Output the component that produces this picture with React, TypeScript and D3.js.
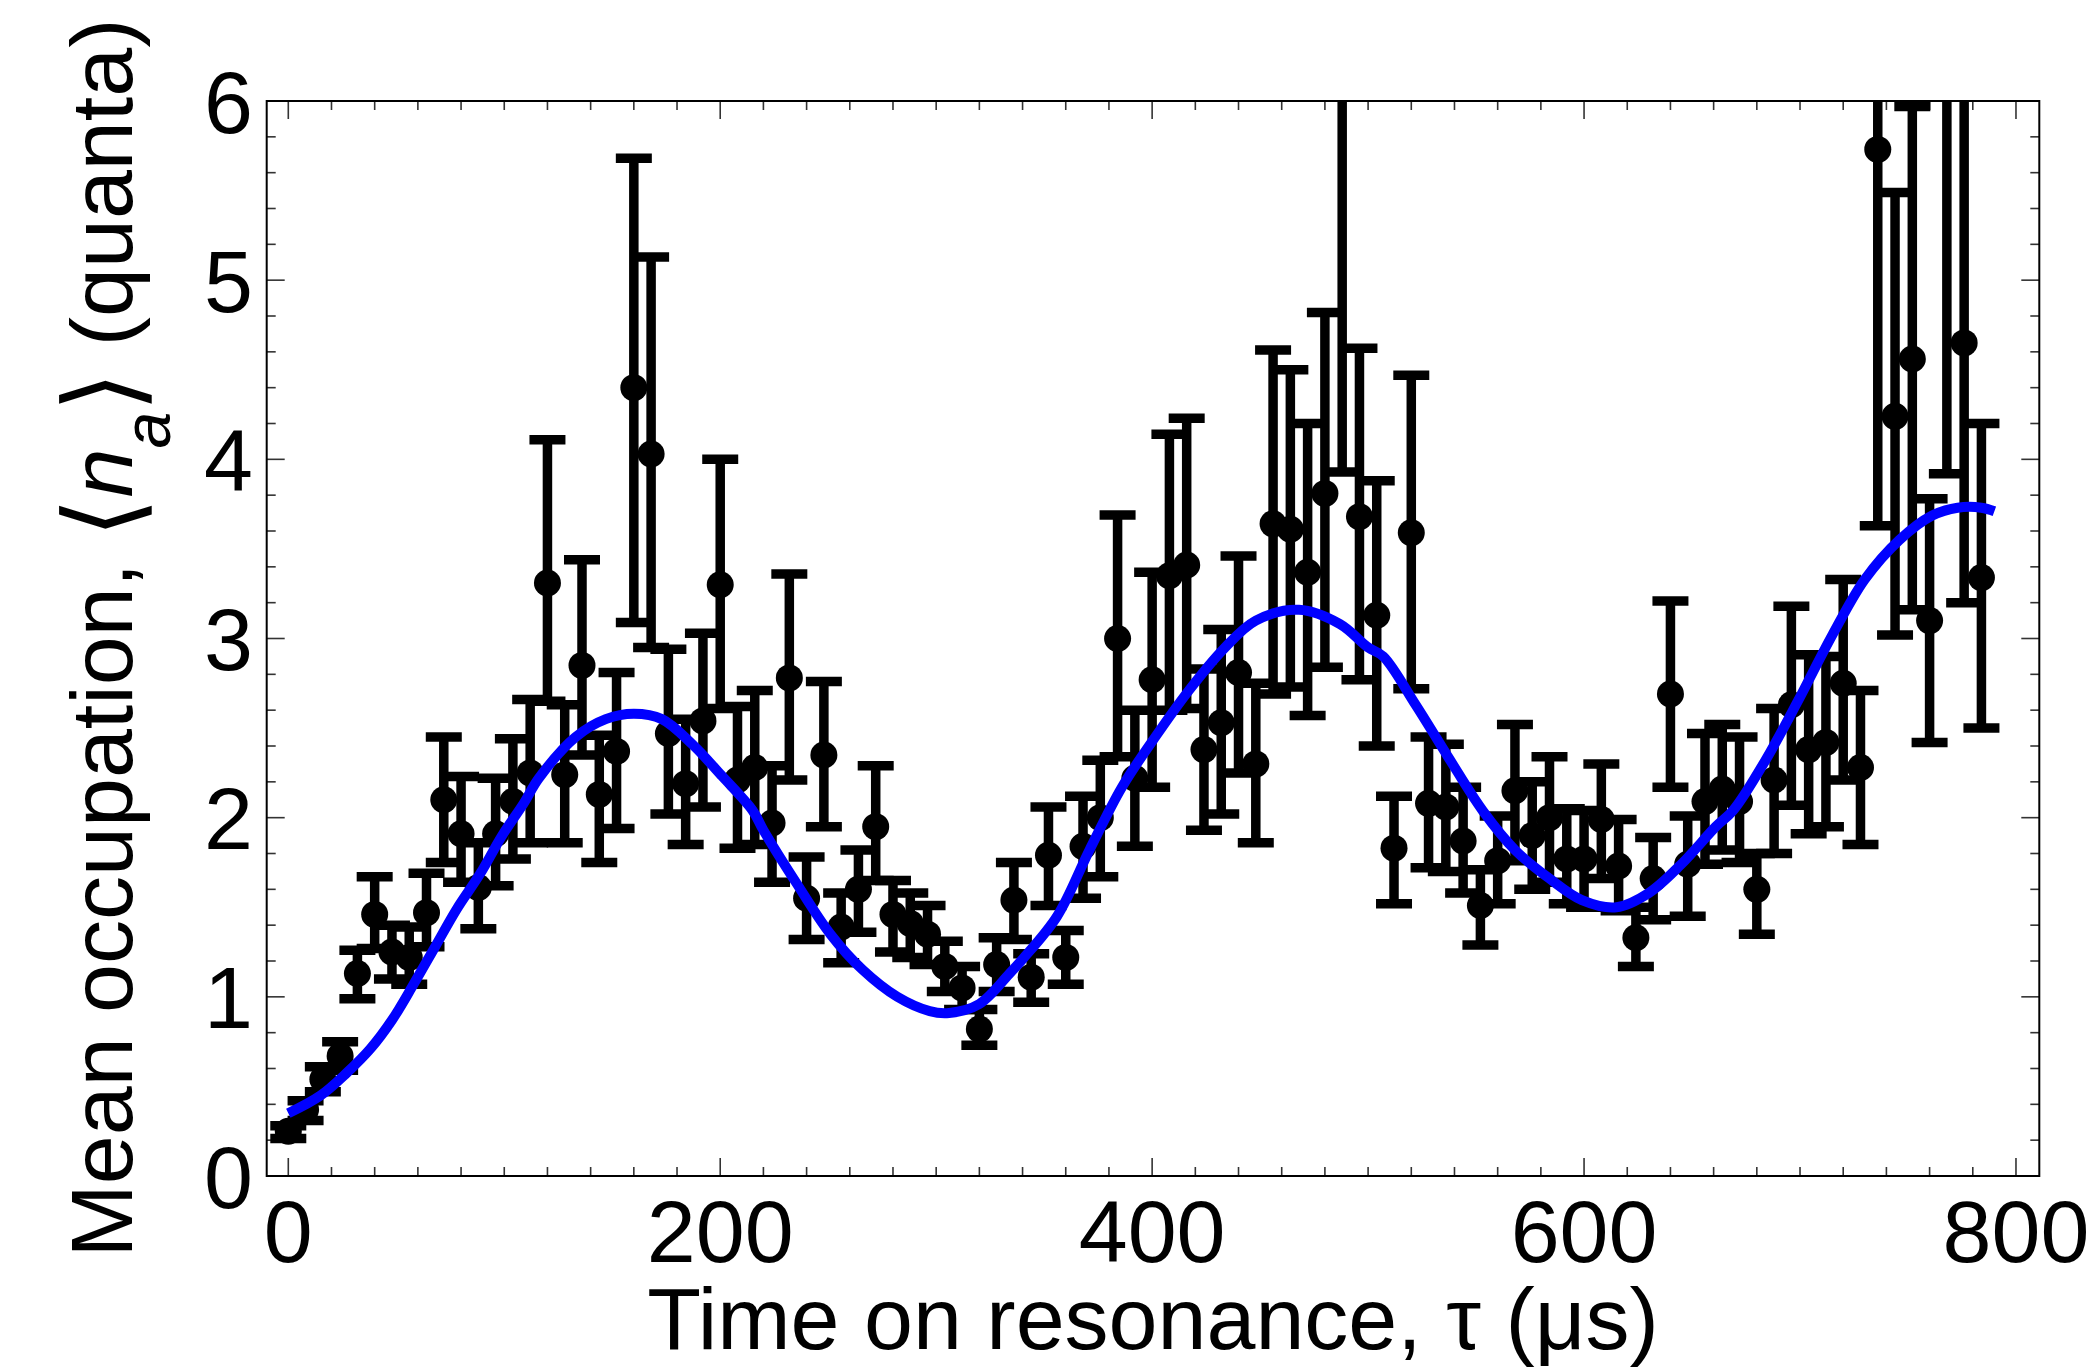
import React from 'react';
import * as d3 from 'd3';

// Time on resonance (µs)
const TIMES = [
  0, 8, 16, 24, 32, 40, 48, 56, 64, 72, 80, 88, 96, 104, 112, 120, 128, 136, 144, 152,
  160, 168, 176, 184, 192, 200, 208, 216, 224, 232, 240, 248, 256, 264, 272, 280, 288, 296, 304, 312,
  320, 328, 336, 344, 352, 360, 368, 376, 384, 392, 400, 408, 416, 424, 432, 440, 448, 456, 464, 472,
  480, 488, 496, 504, 512, 520, 528, 536, 544, 552, 560, 568, 576, 584, 592, 600, 608, 616, 624, 632,
  640, 648, 656, 664, 672, 680, 688, 696, 704, 712, 720, 728, 736, 744, 752, 760, 768, 776, 784,
];
// Mean occupation <n_a>
const MEAN = [
  0.25, 0.37, 0.54, 0.67, 1.13, 1.46, 1.25, 1.22, 1.47, 2.10, 1.91, 1.61, 1.91, 2.09, 2.25, 3.31, 2.24, 2.85, 2.13, 2.37,
  4.40, 4.03, 2.47, 2.19, 2.54, 3.30, 2.21, 2.28, 1.97, 2.78, 1.55, 2.35, 1.39, 1.60, 1.95, 1.46, 1.41, 1.35, 1.17, 1.05,
  0.82, 1.18, 1.54, 1.11, 1.79, 1.22, 1.84, 2.00, 3.00, 2.22, 2.77, 3.35, 3.41, 2.38, 2.53, 2.81, 2.30, 3.64, 3.61, 3.37,
  3.81, 6.40, 3.68, 3.13, 1.83, 3.59, 2.08, 2.06, 1.87, 1.51, 1.76, 2.15, 1.90, 2.00, 1.77, 1.77, 1.99, 1.73, 1.33, 1.66,
  2.69, 1.74, 2.09, 2.16, 2.09, 1.60, 2.21, 2.63, 2.38, 2.42, 2.75, 2.28, 5.73, 4.24, 4.56, 3.10, 6.30, 4.65, 3.34,
];
// Lower end of the error bar
const LOWER = [
  0.21, 0.31, 0.47, 0.59, 0.99, 1.27, 1.10, 1.07, 1.28, 1.75, 1.64, 1.38, 1.62, 1.77, 1.86, 2.65, 1.86, 2.35, 1.75, 1.94,
  3.09, 2.95, 2.02, 1.85, 2.06, 2.61, 1.83, 1.85, 1.64, 2.21, 1.32, 1.95, 1.19, 1.36, 1.65, 1.25, 1.22, 1.18, 1.03, 0.93,
  0.73, 1.03, 1.32, 0.97, 1.51, 1.07, 1.55, 1.67, 2.34, 1.84, 2.17, 2.60, 2.61, 1.93, 2.02, 2.25, 1.86, 2.69, 2.73, 2.57,
  2.84, 3.93, 2.77, 2.40, 1.52, 2.72, 1.72, 1.70, 1.58, 1.29, 1.52, 1.76, 1.60, 1.64, 1.52, 1.50, 1.66, 1.48, 1.17, 1.43,
  2.17, 1.45, 1.74, 1.82, 1.75, 1.35, 1.80, 2.07, 1.91, 1.95, 2.21, 1.85, 3.63, 3.02, 3.16, 2.42, 3.92, 3.20, 2.50,
];
// Upper end of the error bar
const UPPER = [
  0.28, 0.42, 0.61, 0.75, 1.26, 1.67, 1.40, 1.39, 1.69, 2.45, 2.23, 1.86, 2.22, 2.44, 2.66, 4.11, 2.63, 3.44, 2.46, 2.81,
  5.68, 5.13, 2.94, 2.55, 3.03, 4.00, 2.62, 2.71, 2.29, 3.36, 1.78, 2.76, 1.58, 1.82, 2.29, 1.65, 1.58, 1.51, 1.31, 1.17,
  0.93, 1.33, 1.75, 1.24, 2.06, 1.37, 2.12, 2.32, 3.69, 2.60, 3.37, 4.14, 4.23, 2.83, 3.05, 3.46, 2.75, 4.61, 4.50, 4.20,
  4.82, 8.90, 4.62, 3.88, 2.12, 4.47, 2.45, 2.41, 2.17, 1.71, 2.01, 2.52, 2.20, 2.34, 2.05, 2.04, 2.30, 1.99, 1.50, 1.89,
  3.21, 2.01, 2.47, 2.52, 2.45, 1.80, 2.61, 3.18, 2.91, 2.90, 3.33, 2.71, 7.80, 5.49, 5.97, 3.78, 8.70, 6.10, 4.20,
];

// Fitted curve
const FIT_TIME = [
  0, 15, 27, 38, 48, 58, 68, 78, 89, 99, 109, 116, 133, 147, 160, 173, 187, 201, 215, 220,
  235, 251, 266, 282, 297, 306, 320, 334, 340, 356, 371, 386, 402, 417, 433, 448, 468, 487, 500, 507,
  522, 537, 553, 568, 584, 599, 615, 630, 645, 661, 669, 684, 699, 715, 730, 746, 761, 773, 784, 790,
];
const FIT_MEAN = [
  0.35, 0.45, 0.575, 0.71, 0.87, 1.07, 1.28, 1.49, 1.69, 1.90, 2.08, 2.22, 2.45, 2.55, 2.58, 2.55, 2.41, 2.23, 2.04, 1.93,
  1.64, 1.35, 1.15, 1.00, 0.92, 0.91, 0.96, 1.13, 1.21, 1.45, 1.82, 2.17, 2.46, 2.71, 2.94, 3.10, 3.16, 3.08, 2.95, 2.90,
  2.63, 2.34, 2.04, 1.82, 1.66, 1.54, 1.50, 1.58, 1.74, 1.95, 2.04, 2.32, 2.65, 3.02, 3.33, 3.55, 3.685, 3.73, 3.73, 3.71,
];

const X_TICKS = [0, 200, 400, 600, 800];
const Y_TICKS = [0, 1, 2, 3, 4, 5, 6];

const FONT = '"Liberation Sans", Arial, Helvetica, sans-serif';

export default function App() {
  const W = 2091;
  const H = 1370;
  const left = 266.7;
  const right = 2039.3;
  const top = 101;
  const bottom = 1176;

  const x = d3.scaleLinear().domain([-10, 810.8]).range([left, right]);
  const y = d3.scaleLinear().domain([0, 6]).range([bottom, top]);

  const xMinor = d3.range(0, 801, 20).filter((v) => v % 200 !== 0);
  const yMinor = d3.range(0, 31, 1).map((k) => k / 5).filter((_, k) => k % 5 !== 0);

  const majorLen = 18;
  const minorLen = 9;
  const tickColor = '#333';

  const fitLine = d3
    .line<number>()
    .x((_, i) => x(FIT_TIME[i]))
    .y((d) => y(d))
    .curve(d3.curveCatmullRom.alpha(0.5));

  const capHalf = 18;
  const barW = 9.5;

  return (
    <svg
      width={W}
      height={H}
      viewBox={`0 0 ${W} ${H}`}
      style={{ position: 'absolute', left: 0, top: 0, display: 'block', background: '#fff' }}
    >
      <defs>
        <clipPath id="plotClip">
          <rect x={left} y={top} width={right - left} height={bottom - top} />
        </clipPath>
      </defs>
      <rect x={0} y={0} width={W} height={H} fill="#fff" />

      {/* ticks */}
      <g stroke={tickColor} strokeWidth={1.6}>
        {X_TICKS.map((t) => (
          <g key={'xM' + t}>
            <line x1={x(t)} x2={x(t)} y1={bottom} y2={bottom - majorLen} />
            <line x1={x(t)} x2={x(t)} y1={top} y2={top + majorLen} />
          </g>
        ))}
        {xMinor.map((t) => (
          <g key={'xm' + t}>
            <line x1={x(t)} x2={x(t)} y1={bottom} y2={bottom - minorLen} />
            <line x1={x(t)} x2={x(t)} y1={top} y2={top + minorLen} />
          </g>
        ))}
        {Y_TICKS.map((v) => (
          <g key={'yM' + v}>
            <line x1={left} x2={left + majorLen} y1={y(v)} y2={y(v)} />
            <line x1={right} x2={right - majorLen} y1={y(v)} y2={y(v)} />
          </g>
        ))}
        {yMinor.map((v) => (
          <g key={'ym' + v}>
            <line x1={left} x2={left + minorLen} y1={y(v)} y2={y(v)} />
            <line x1={right} x2={right - minorLen} y1={y(v)} y2={y(v)} />
          </g>
        ))}
      </g>

      {/* data */}
      <g clipPath="url(#plotClip)">
        <g stroke="#000" strokeWidth={barW} fill="none">
          {TIMES.map((t, i) => (
            <g key={'eb' + i}>
              <line x1={x(t)} x2={x(t)} y1={y(LOWER[i])} y2={y(UPPER[i])} />
              <line x1={x(t) - capHalf} x2={x(t) + capHalf} y1={y(LOWER[i])} y2={y(LOWER[i])} />
              <line x1={x(t) - capHalf} x2={x(t) + capHalf} y1={y(UPPER[i])} y2={y(UPPER[i])} />
            </g>
          ))}
        </g>
        <g fill="#000">
          {TIMES.map((t, i) => (
            <circle key={'pt' + i} cx={x(t)} cy={y(MEAN[i])} r={13.5} />
          ))}
        </g>
        <path d={fitLine(FIT_MEAN) || ''} fill="none" stroke="#0000FF" strokeWidth={10} strokeLinejoin="round" />
      </g>

      {/* frame */}
      <rect x={left} y={top} width={right - left} height={bottom - top} fill="none" stroke="#000" strokeWidth={2} />

      {/* tick labels */}
      <g fontFamily={FONT} fontSize={88} fill="#000">
        {X_TICKS.map((t) => (
          <text key={'xl' + t} x={x(t)} y={1262} textAnchor="middle">
            {t}
          </text>
        ))}
        {Y_TICKS.map((v) => (
          <text key={'yl' + v} x={253} y={y(v) + 31.5} textAnchor="end">
            {v}
          </text>
        ))}
      </g>

      {/* axis titles */}
      <text x={(left + right) / 2} y={1349} textAnchor="middle" fontFamily={FONT} fontSize={88} fill="#000">
        Time on resonance, τ (μs)
      </text>
      <text
        transform={`translate(132, 638) rotate(-90)`}
        textAnchor="middle"
        fontFamily={FONT}
        fontSize={88}
        fill="#000"
      >
        Mean occupation,{' '}
        <tspan fontSize={104} fontWeight={300} fontFamily='"DejaVu Sans", sans-serif' dy={6}>{'\u27E8'}</tspan>
        <tspan fontStyle="italic" dy={-6}>n</tspan>
        <tspan fontSize={66} fontStyle="italic" dy={38}>a</tspan>
        <tspan fontSize={104} fontWeight={300} fontFamily='"DejaVu Sans", sans-serif' dy={-32}>{'\u27E9'}</tspan>
        <tspan dy={-6}> (quanta)</tspan>
      </text>
    </svg>
  );
}
